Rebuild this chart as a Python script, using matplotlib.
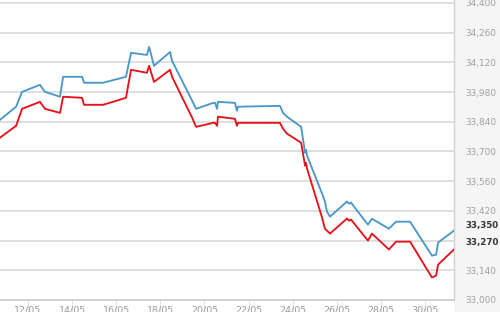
import matplotlib
matplotlib.use("Agg")
import matplotlib.pyplot as plt
from matplotlib.patches import Rectangle
from matplotlib.ticker import FuncFormatter
import matplotlib.transforms as mtransforms

# Day of May (fractional)
days = [10.73, 11.46, 11.73, 12.54, 12.77, 13.45, 13.59, 14.45, 14.54, 15.40,
        16.44, 16.67, 17.39, 17.49, 17.71, 18.44, 18.53, 19.44, 19.62, 20.39,
        20.48, 20.57, 20.61, 21.38, 21.47, 21.52, 23.42, 23.56, 23.74, 24.38,
        24.56, 24.60, 24.65, 25.33, 25.46, 25.55, 25.69, 26.46, 26.55, 26.64,
        27.41, 27.59, 28.36, 28.68, 29.32, 30.31, 30.50, 30.59, 31.31]

blue_values = [33849, 33911, 33981, 34014, 33981, 33958, 34052, 34052, 34024, 34024,
               34052, 34165, 34155, 34193, 34104, 34169, 34127, 33939, 33901, 33929,
               33929, 33901, 33934, 33929, 33892, 33911, 33915, 33882, 33864, 33816,
               33694, 33708, 33680, 33501, 33464, 33417, 33393, 33464, 33454, 33459,
               33355, 33383, 33336, 33369, 33369, 33209, 33214, 33271, 33327]

red_values = [33765, 33821, 33901, 33934, 33901, 33882, 33958, 33953, 33920, 33920,
              33953, 34085, 34071, 34104, 34028, 34085, 34052, 33859, 33816, 33835,
              33835, 33821, 33864, 33854, 33821, 33835, 33835, 33807, 33784, 33741,
              33633, 33647, 33619, 33388, 33336, 33327, 33313, 33384, 33374, 33379,
              33280, 33313, 33238, 33275, 33275, 33106, 33115, 33167, 33238]

x_ticks = [12, 14, 16, 18, 20, 22, 24, 26, 28, 30]
x_tick_labels = ["12/05", "14/05", "16/05", "18/05", "20/05", "22/05",
                 "24/05", "26/05", "28/05", "30/05"]
y_ticks = [33000, 33140, 33420, 33560, 33700, 33840, 33980, 34120, 34260, 34400]
grid_levels = [33000, 33140, 33280, 33420, 33560, 33700, 33840, 33980, 34120, 34260, 34400]
current_values = [33350, 33270]

BLUE = "#4b98c9"
RED = "#e5141c"

fig = plt.figure(figsize=(5.0, 3.12), dpi=100, facecolor="white")
# right grey panel
fig.patches.append(Rectangle((0.908, 0), 0.092, 1, transform=fig.transFigure,
                             facecolor="#f5f5f5", edgecolor="none", zorder=-10))

ax = fig.add_axes([0.0, 0.0385, 0.908, 0.9615])
ax.set_facecolor("white")
ax.set_xlim(10.73, 31.31)
ax.set_ylim(33000, 34414)

for g in grid_levels:
    ax.axhline(g, color="#dcdcdc", lw=1.3, zorder=1)

ax.plot(days, blue_values, color=BLUE, lw=1.35, zorder=3, solid_joinstyle="round")
ax.plot(days, red_values, color=RED, lw=1.35, zorder=3, solid_joinstyle="round")

for s in ["left", "top"]:
    ax.spines[s].set_visible(False)
ax.spines["right"].set_color("#d0d0d0")
ax.spines["bottom"].set_color("#d0d0d0")
ax.spines["right"].set_linewidth(1.0)
ax.spines["bottom"].set_linewidth(1.3)

ax.set_xticks(x_ticks)
ax.set_xticklabels(x_tick_labels)
ax.tick_params(axis="x", direction="out", length=9, width=0.7, color="#e2e2e2",
               pad=-5, labelsize=6.8, labelcolor="#9a9a9a")

ax.yaxis.tick_right()
ax.set_yticks(y_ticks)
ax.yaxis.set_major_formatter(FuncFormatter(lambda v, p: f"{int(v):,}"))
ax.tick_params(axis="y", length=0, pad=8.0, labelsize=6.4, labelcolor="#a0a0a0")

trans = mtransforms.blended_transform_factory(ax.transAxes, ax.transData)
for v in current_values:
    ax.text(1.0 + 11.0 / 454, v, f"{v:,}", transform=trans, ha="left", va="center",
            fontsize=6.2, color="#333333", fontweight="bold", clip_on=False)

fig.savefig("out.png", dpi=100, facecolor=fig.get_facecolor())
